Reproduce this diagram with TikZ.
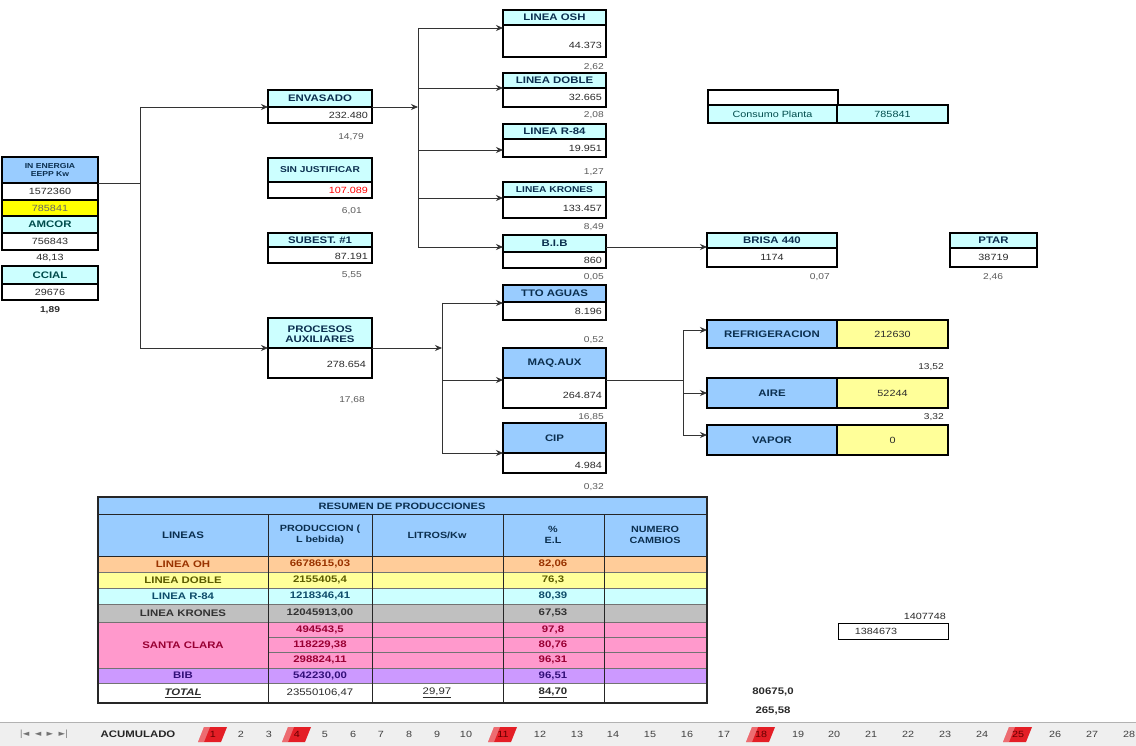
\documentclass[tikz,border=0pt]{standalone}
\usepackage{fontspec}
\setmainfont{Liberation Sans}[FakeStretch=1.2]
\newfontfamily\dvs{DejaVu Sans}
\usetikzlibrary{arrows.meta}
\definecolor{bl}{HTML}{99CCFF}
\definecolor{cy}{HTML}{CCFFFF}
\definecolor{ye}{HTML}{FFFF99}
\definecolor{yb}{HTML}{FFFF00}
\definecolor{orc}{HTML}{FFCC99}
\definecolor{grc}{HTML}{C0C0C0}
\definecolor{pk}{HTML}{FF99CC}
\definecolor{pu}{HTML}{CC99FF}
\definecolor{nv}{HTML}{0B2F4F}
\definecolor{tx}{HTML}{2B2B2B}
\definecolor{pc}{HTML}{5A5A5A}
\definecolor{tabbg}{HTML}{EFEFEF}
\definecolor{tabred}{HTML}{E41E26}
\definecolor{cOH}{HTML}{993300}
\definecolor{cDB}{HTML}{5C5C00}
\definecolor{cR}{HTML}{0F4D6B}
\definecolor{cK}{HTML}{333333}
\definecolor{cSC}{HTML}{990033}
\definecolor{cBIB}{HTML}{33107A}
\newcommand\mkcell[6]{\pgfmathsetmacro\cw{#4-#2}\pgfmathsetmacro\ch{#5-#3}%
  \node[cellbox,#6,minimum width=\cw pt,minimum height=\ch pt,anchor=north west] (#1) at (#2,#3) {};}
\tikzset{
  cellbox/.style={draw=black, line width=1.1pt, inner sep=0pt, outer sep=0pt},
  hd/.style={font=\bfseries\fontsize{9.5}{10.5}\selectfont, text=nv, align=center, inner sep=0pt},
  hds/.style={font=\bfseries\fontsize{8.5}{9.5}\selectfont, text=nv, align=center, inner sep=0pt},
  vl/.style={font=\fontsize{9}{10}\selectfont, text=tx, inner sep=0pt},
  pct/.style={font=\fontsize{8.5}{10}\selectfont, text=pc, inner sep=0pt},
  tb/.style={font=\bfseries\fontsize{9.5}{10.5}\selectfont, inner sep=0pt, align=center},
  ln/.style={draw=black!80, line width=0.8pt},
  arr/.style={draw=black!80, line width=0.8pt, -{Stealth[length=7pt,width=6pt]}},
  tabn/.style={font=\fontsize{9}{10}\selectfont, text=black!75, inner sep=0pt},
}
\begin{document}
\begin{tikzpicture}[x=1pt,y=-1pt]
\useasboundingbox (0,0) rectangle (1136,746);
\fill[white] (0,0) rectangle (1136,746);

% ---------- left column ----------
\mkcell{en}{2}{157}{98}{183}{fill=bl}
\node[hd,font=\bfseries\fontsize{7.2}{8}\selectfont] (en-t) at (en) {IN ENERGIA\\EEPP Kw};
\mkcell{en1}{2}{183}{98}{200}{fill=white}
\node[vl] (en1-t) at (en1) {1572360};
\mkcell{en2}{2}{200}{98}{216}{fill=yb}
\node[vl,text=black!60] (en2-t) at (en2) {785841};
\mkcell{am}{2}{216}{98}{233}{fill=cy}
\node[hd,text=teal!60!black] (am-t) at (am) {AMCOR};
\mkcell{am1}{2}{233}{98}{250}{fill=white}
\node[vl] (am1-t) at (am1) {756843};
\node[vl] (am-p) at (50,258) {48,13};
\mkcell{cc}{2}{266}{98}{284}{fill=cy}
\node[hd,text=teal!60!black] (cc-t) at (cc) {CCIAL};
\mkcell{cc1}{2}{284}{98}{300}{fill=white}
\node[vl] (cc1-t) at (cc1) {29676};
\node[vl,font=\bfseries\fontsize{8.5}{10}\selectfont] (cc-p) at (50,310) {1,89};

% ---------- middle column ----------
\mkcell{env}{268}{90}{372}{107}{fill=cy}
\node[hd] (env-t) at (env) {ENVASADO};
\mkcell{envv}{268}{107}{372}{123}{fill=white}
\node[vl,anchor=east] (envv-t) at (368,115) {232.480};
\node[pct,anchor=east] (env-p) at (364,137) {14,79};

\mkcell{sj}{268}{158}{372}{182}{fill=cy}
\node[hds] (sj-t) at (sj) {SIN JUSTIFICAR};
\mkcell{sjv}{268}{182}{372}{198}{fill=white}
\node[vl,anchor=east,text=red] (sjv-t) at (368,190) {107.089};
\node[pct,anchor=east] (sj-p) at (362,211) {6,01};

\mkcell{sb}{268}{233}{372}{247}{fill=cy}
\node[hd] (sb-t) at (sb) {SUBEST. \#1};
\mkcell{sbv}{268}{247}{372}{263}{fill=white}
\node[vl,anchor=east] (sbv-t) at (368,256) {87.191};
\node[pct,anchor=east] (sb-p) at (362,275) {5,55};

\mkcell{pa}{268}{318}{372}{348}{fill=cy}
\node[hd] (pa-t) at (320,334) {PROCESOS\\AUXILIARES};
\mkcell{pav}{268}{348}{372}{378}{fill=white}
\node[vl,anchor=east] (pav-t) at (366,364) {278.654};
\node[pct,anchor=east] (pa-p) at (365,400) {17,68};

% ---------- right column ----------
\mkcell{oh}{503}{10}{606}{25}{fill=cy}
\node[hd] (oh-t) at (oh) {LINEA OSH};
\mkcell{ohv}{503}{25}{606}{57}{fill=white}
\node[vl,anchor=east] (ohv-t) at (602,45) {44.373};
\node[pct,anchor=east] (oh-p) at (604,67) {2,62};

\mkcell{db}{503}{73}{606}{88}{fill=cy}
\node[hd] (db-t) at (db) {LINEA DOBLE};
\mkcell{dbv}{503}{88}{606}{107}{fill=white}
\node[vl,anchor=east] (dbv-t) at (602,97) {32.665};
\node[pct,anchor=east] (db-p) at (604,115) {2,08};

\mkcell{r8}{503}{124}{606}{139}{fill=cy}
\node[hd] (r8-t) at (r8) {LINEA R-84};
\mkcell{r8v}{503}{139}{606}{157}{fill=white}
\node[vl,anchor=east] (r8v-t) at (602,148) {19.951};
\node[pct,anchor=east] (r8-p) at (604,172) {1,27};

\mkcell{kr}{503}{182}{606}{197}{fill=cy}
\node[hds] (kr-t) at (kr) {LINEA KRONES};
\mkcell{krv}{503}{197}{606}{218}{fill=white}
\node[vl,anchor=east] (krv-t) at (602,208) {133.457};
\node[pct,anchor=east] (kr-p) at (604,227) {8,49};

\mkcell{bib}{503}{235}{606}{252}{fill=cy}
\node[hd] (bib-t) at (bib) {B.I.B};
\mkcell{bibv}{503}{252}{606}{268}{fill=white}
\node[vl,anchor=east] (bibv-t) at (602,260) {860};
\node[pct,anchor=east] (bib-p) at (604,277) {0,05};

\mkcell{tto}{503}{285}{606}{302}{fill=bl}
\node[hd] (tto-t) at (tto) {TTO AGUAS};
\mkcell{ttov}{503}{302}{606}{320}{fill=white}
\node[vl,anchor=east] (ttov-t) at (602,311) {8.196};
\node[pct,anchor=east] (tto-p) at (604,340) {0,52};

\mkcell{mq}{503}{348}{606}{378}{fill=bl}
\node[hd] (mq-t) at (mq) {MAQ.AUX};
\mkcell{mqv}{503}{378}{606}{408}{fill=white}
\node[vl,anchor=east] (mqv-t) at (602,395) {264.874};
\node[pct,anchor=east] (mq-p) at (604,417) {16,85};

\mkcell{cip}{503}{423}{606}{453}{fill=bl}
\node[hd] (cip-t) at (cip) {CIP};
\mkcell{cipv}{503}{453}{606}{473}{fill=white}
\node[vl,anchor=east] (cipv-t) at (602,465) {4.984};
\node[pct,anchor=east] (cip-p) at (604,487) {0,32};

% ---------- far right ----------
\mkcell{cb}{708}{90}{838}{105}{line width=1.6pt}
\mkcell{cpa}{708}{105}{837}{123}{fill=cy}
\node[vl,text=teal!60!black] (cpa-t) at (cpa) {Consumo Planta};
\mkcell{cpb}{837}{105}{948}{123}{fill=cy}
\node[vl,text=teal!60!black] (cpb-t) at (cpb) {785841};

\mkcell{br}{707}{233}{837}{248}{fill=cy}
\node[hd] (br-t) at (br) {BRISA 440};
\mkcell{brv}{707}{248}{837}{267}{fill=white}
\node[vl] (brv-t) at (brv) {1174};
\node[pct,anchor=east] (br-p) at (830,277) {0,07};

\mkcell{pt}{950}{233}{1037}{248}{fill=cy}
\node[hd] (pt-t) at (pt) {PTAR};
\mkcell{ptv}{950}{248}{1037}{267}{fill=white}
\node[vl] (ptv-t) at (ptv) {38719};
\node[pct] (pt-p) at (993,277) {2,46};

\mkcell{rf}{707}{320}{837}{348}{fill=bl}
\node[hd] (rf-t) at (rf) {REFRIGERACION};
\mkcell{rfv}{837}{320}{948}{348}{fill=ye}
\node[vl] (rfv-t) at (rfv) {212630};
\node[pct,anchor=east,text=tx] (rf-p) at (944,367) {13,52};

\mkcell{ai}{707}{378}{837}{408}{fill=bl}
\node[hd] (ai-t) at (ai) {AIRE};
\mkcell{aiv}{837}{378}{948}{408}{fill=ye}
\node[vl] (aiv-t) at (aiv) {52244};
\node[pct,anchor=east,text=tx] (ai-p) at (944,417) {3,32};

\mkcell{vp}{707}{425}{837}{455}{fill=bl}
\node[hd] (vp-t) at (vp) {VAPOR};
\mkcell{vpv}{837}{425}{948}{455}{fill=ye}
\node[vl] (vpv-t) at (vpv) {0};

\node[vl,anchor=east] (s1) at (946,616) {1407748};
\mkcell{s2}{838}{623}{948}{639}{line width=0.8pt,fill=white}
\node[vl] (s2-t) at (876,631) {1384673};
\node[tb,text=tx] (s3) at (773,692) {80675,0};
\node[tb,text=tx] (s4) at (773,711) {265,58};

% ---------- connectors ----------
\coordinate (j1) at (140,183);
\coordinate (j1t) at (140,107);
\coordinate (j1b) at (140,348);
\draw[ln] (j1 -| en.east) -- (j1);
\draw[ln] (j1t) -- (j1b);
\draw[arr] (j1t) -- (j1t -| env.west);
\draw[arr] (j1b) -- (j1b -| pa.west);

\coordinate (j2) at (418,107);
\coordinate (a-oh) at (418,28);
\coordinate (a-db) at (418,88);
\coordinate (a-r8) at (418,150);
\coordinate (a-kr) at (418,198);
\coordinate (a-bib) at (418,247);
\draw[arr] (j2 -| env.east) -- (j2);
\draw[ln] (a-oh) -- (a-bib);
\draw[arr] (a-oh) -- (a-oh -| oh.west);
\draw[arr] (a-db) -- (a-db -| db.west);
\draw[arr] (a-r8) -- (a-r8 -| r8.west);
\draw[arr] (a-kr) -- (a-kr -| kr.west);
\draw[arr] (a-bib) -- (a-bib -| bib.west);

\coordinate (j3) at (442,348);
\coordinate (a-tto) at (442,303);
\coordinate (a-mq) at (442,380);
\coordinate (a-cip) at (442,453);
\draw[arr] (j3 -| pa.east) -- (j3);
\draw[ln] (a-tto) -- (a-cip);
\draw[arr] (a-tto) -- (a-tto -| tto.west);
\draw[arr] (a-mq) -- (a-mq -| mq.west);
\draw[arr] (a-cip) -- (a-cip -| cip.west);

\coordinate (b-br) at (606,247);
\draw[arr] (b-br -| bib.east) -- (b-br -| br.west);

\coordinate (j4) at (683,380);
\coordinate (a-rf) at (683,330);
\coordinate (a-ai) at (683,393);
\coordinate (a-vp) at (683,435);
\draw[ln] (j4 -| mq.east) -- (j4);
\draw[ln] (a-rf) -- (a-vp);
\draw[arr] (a-rf) -- (a-rf -| rf.west);
\draw[arr] (a-ai) -- (a-ai -| ai.west);
\draw[arr] (a-vp) -- (a-vp -| vp.west);

% ---------- table ----------
\fill[bl] (98,497) rectangle (707,556);
\fill[orc] (98,556) rectangle (707,572);
\fill[ye] (98,572) rectangle (707,588);
\fill[cy] (98,588) rectangle (707,604);
\fill[grc] (98,604) rectangle (707,622);
\fill[pk] (98,622) rectangle (707,668);
\fill[pu] (98,668) rectangle (707,683);
\fill[white] (98,683) rectangle (707,703);
\foreach \yy in {572,588,604,622,668,683}{\draw[black!55,line width=0.6pt] (98,\yy) -- (707,\yy);}
\foreach \yy in {637,652}{\draw[black!55,line width=0.6pt] (268,\yy) -- (707,\yy);}
\foreach \yy in {514,556}{\draw[black!85,line width=1pt] (98,\yy) -- (707,\yy);}
\foreach \xx in {268,372,503,604}{\draw[black!85,line width=1pt] (\xx,514) -- (\xx,703);}
\draw[black!85,line width=1.2pt] (98,497) rectangle (707,703);

\node[tb,text=nv,font=\bfseries\fontsize{9.2}{10}\selectfont] (t-title) at (402,506) {RESUMEN DE PRODUCCIONES};
\node[tb,text=nv,font=\bfseries\fontsize{9.5}{11}\selectfont] (h1) at (183,535) {LINEAS};
\node[tb,text=nv,font=\bfseries\fontsize{9}{11}\selectfont] (h2) at (320,535) {PRODUCCION (\\L bebida)};
\node[tb,text=nv,font=\bfseries\fontsize{9}{11}\selectfont] (h3) at (437,535) {LITROS/Kw};
\node[tb,text=nv,font=\bfseries\fontsize{9}{11}\selectfont] (h4) at (553,535) {\%\\E.L};
\node[tb,text=nv,font=\bfseries\fontsize{9}{11}\selectfont] (h5) at (655,535) {NUMERO\\CAMBIOS};

\node[tb,text=cOH] (r1a) at (183,564) {LINEA OH};
\node[tb,text=cOH] (r1b) at (320,564) {6678615,03};
\node[tb,text=cOH] (r1d) at (553,564) {82,06};
\node[tb,text=cDB] (r2a) at (183,580) {LINEA DOBLE};
\node[tb,text=cDB] (r2b) at (320,580) {2155405,4};
\node[tb,text=cDB] (r2d) at (553,580) {76,3};
\node[tb,text=cR] (r3a) at (183,596) {LINEA R-84};
\node[tb,text=cR] (r3b) at (320,596) {1218346,41};
\node[tb,text=cR] (r3d) at (553,596) {80,39};
\node[tb,text=cK] (r4a) at (183,613) {LINEA KRONES};
\node[tb,text=cK] (r4b) at (320,613) {12045913,00};
\node[tb,text=cK] (r4d) at (553,613) {67,53};
\node[tb,text=cSC] (r5a) at (183,645) {SANTA CLARA};
\node[tb,text=cSC] (r5b) at (320,629.5) {494543,5};
\node[tb,text=cSC] (r5d) at (553,629.5) {97,8};
\node[tb,text=cSC] (r6b) at (320,644.5) {118229,38};
\node[tb,text=cSC] (r6d) at (553,644.5) {80,76};
\node[tb,text=cSC] (r7b) at (320,660) {298824,11};
\node[tb,text=cSC] (r7d) at (553,660) {96,31};
\node[tb,text=cBIB] (r8a) at (183,675.5) {BIB};
\node[tb,text=cBIB] (r8b) at (320,675.5) {542230,00};
\node[tb,text=cBIB] (r8d) at (553,675.5) {96,51};
\node[tb,text=tx] (r9a) at (183,693) {\itshape\underline{TOTAL}};
\node[tb,text=tx,font=\fontsize{9.5}{10}\selectfont] (r9b) at (320,693) {23550106,47};
\node[tb,text=tx,font=\fontsize{9.5}{10}\selectfont] (r9c) at (437,693) {\underline{29,97}};
\node[tb,text=tx] (r9d) at (553,693) {\underline{84,70}};

% ---------- sheet tabs ----------
\fill[tabbg] (0,722) rectangle (1136,746);
\draw[black!30,line width=0.6pt] (0,722) -- (1136,722);
\node[font=\dvs\fontsize{8.5}{9}\selectfont,text=black!55] (nav) at (44,734) {|◄\ \ ◄\ \ ►\ \ ►|};
\node[tabn,font=\bfseries\fontsize{9.5}{10}\selectfont,text=black!85] (acu) at (138,734) {ACUMULADO};
\foreach \n/\xx in {2/241,3/269,5/325,6/353,7/381,8/409,9/437,10/466,12/540,13/577,14/613,15/650,16/687,17/724,19/798,20/834,21/871,22/908,23/945,24/982,26/1055,27/1092,28/1129}{
  \node[tabn] (tab\n) at (\xx,734) {\n};
}
\foreach \n/\xx in {1/213,4/297,11/503,18/761,25/1018}{
  \fill[tabred] (\xx-15,742) -- (\xx-9,727) -- (\xx+14,727) -- (\xx+8,742) -- cycle;
  \fill[white,opacity=0.35] (\xx-9,727) -- (\xx-3,727) -- (\xx-9,742) -- (\xx-15,742) -- cycle;
  \node[tabn,text=red!40!black] (tab\n) at (\xx,734.5) {\n};
}
\end{tikzpicture}
\end{document}
